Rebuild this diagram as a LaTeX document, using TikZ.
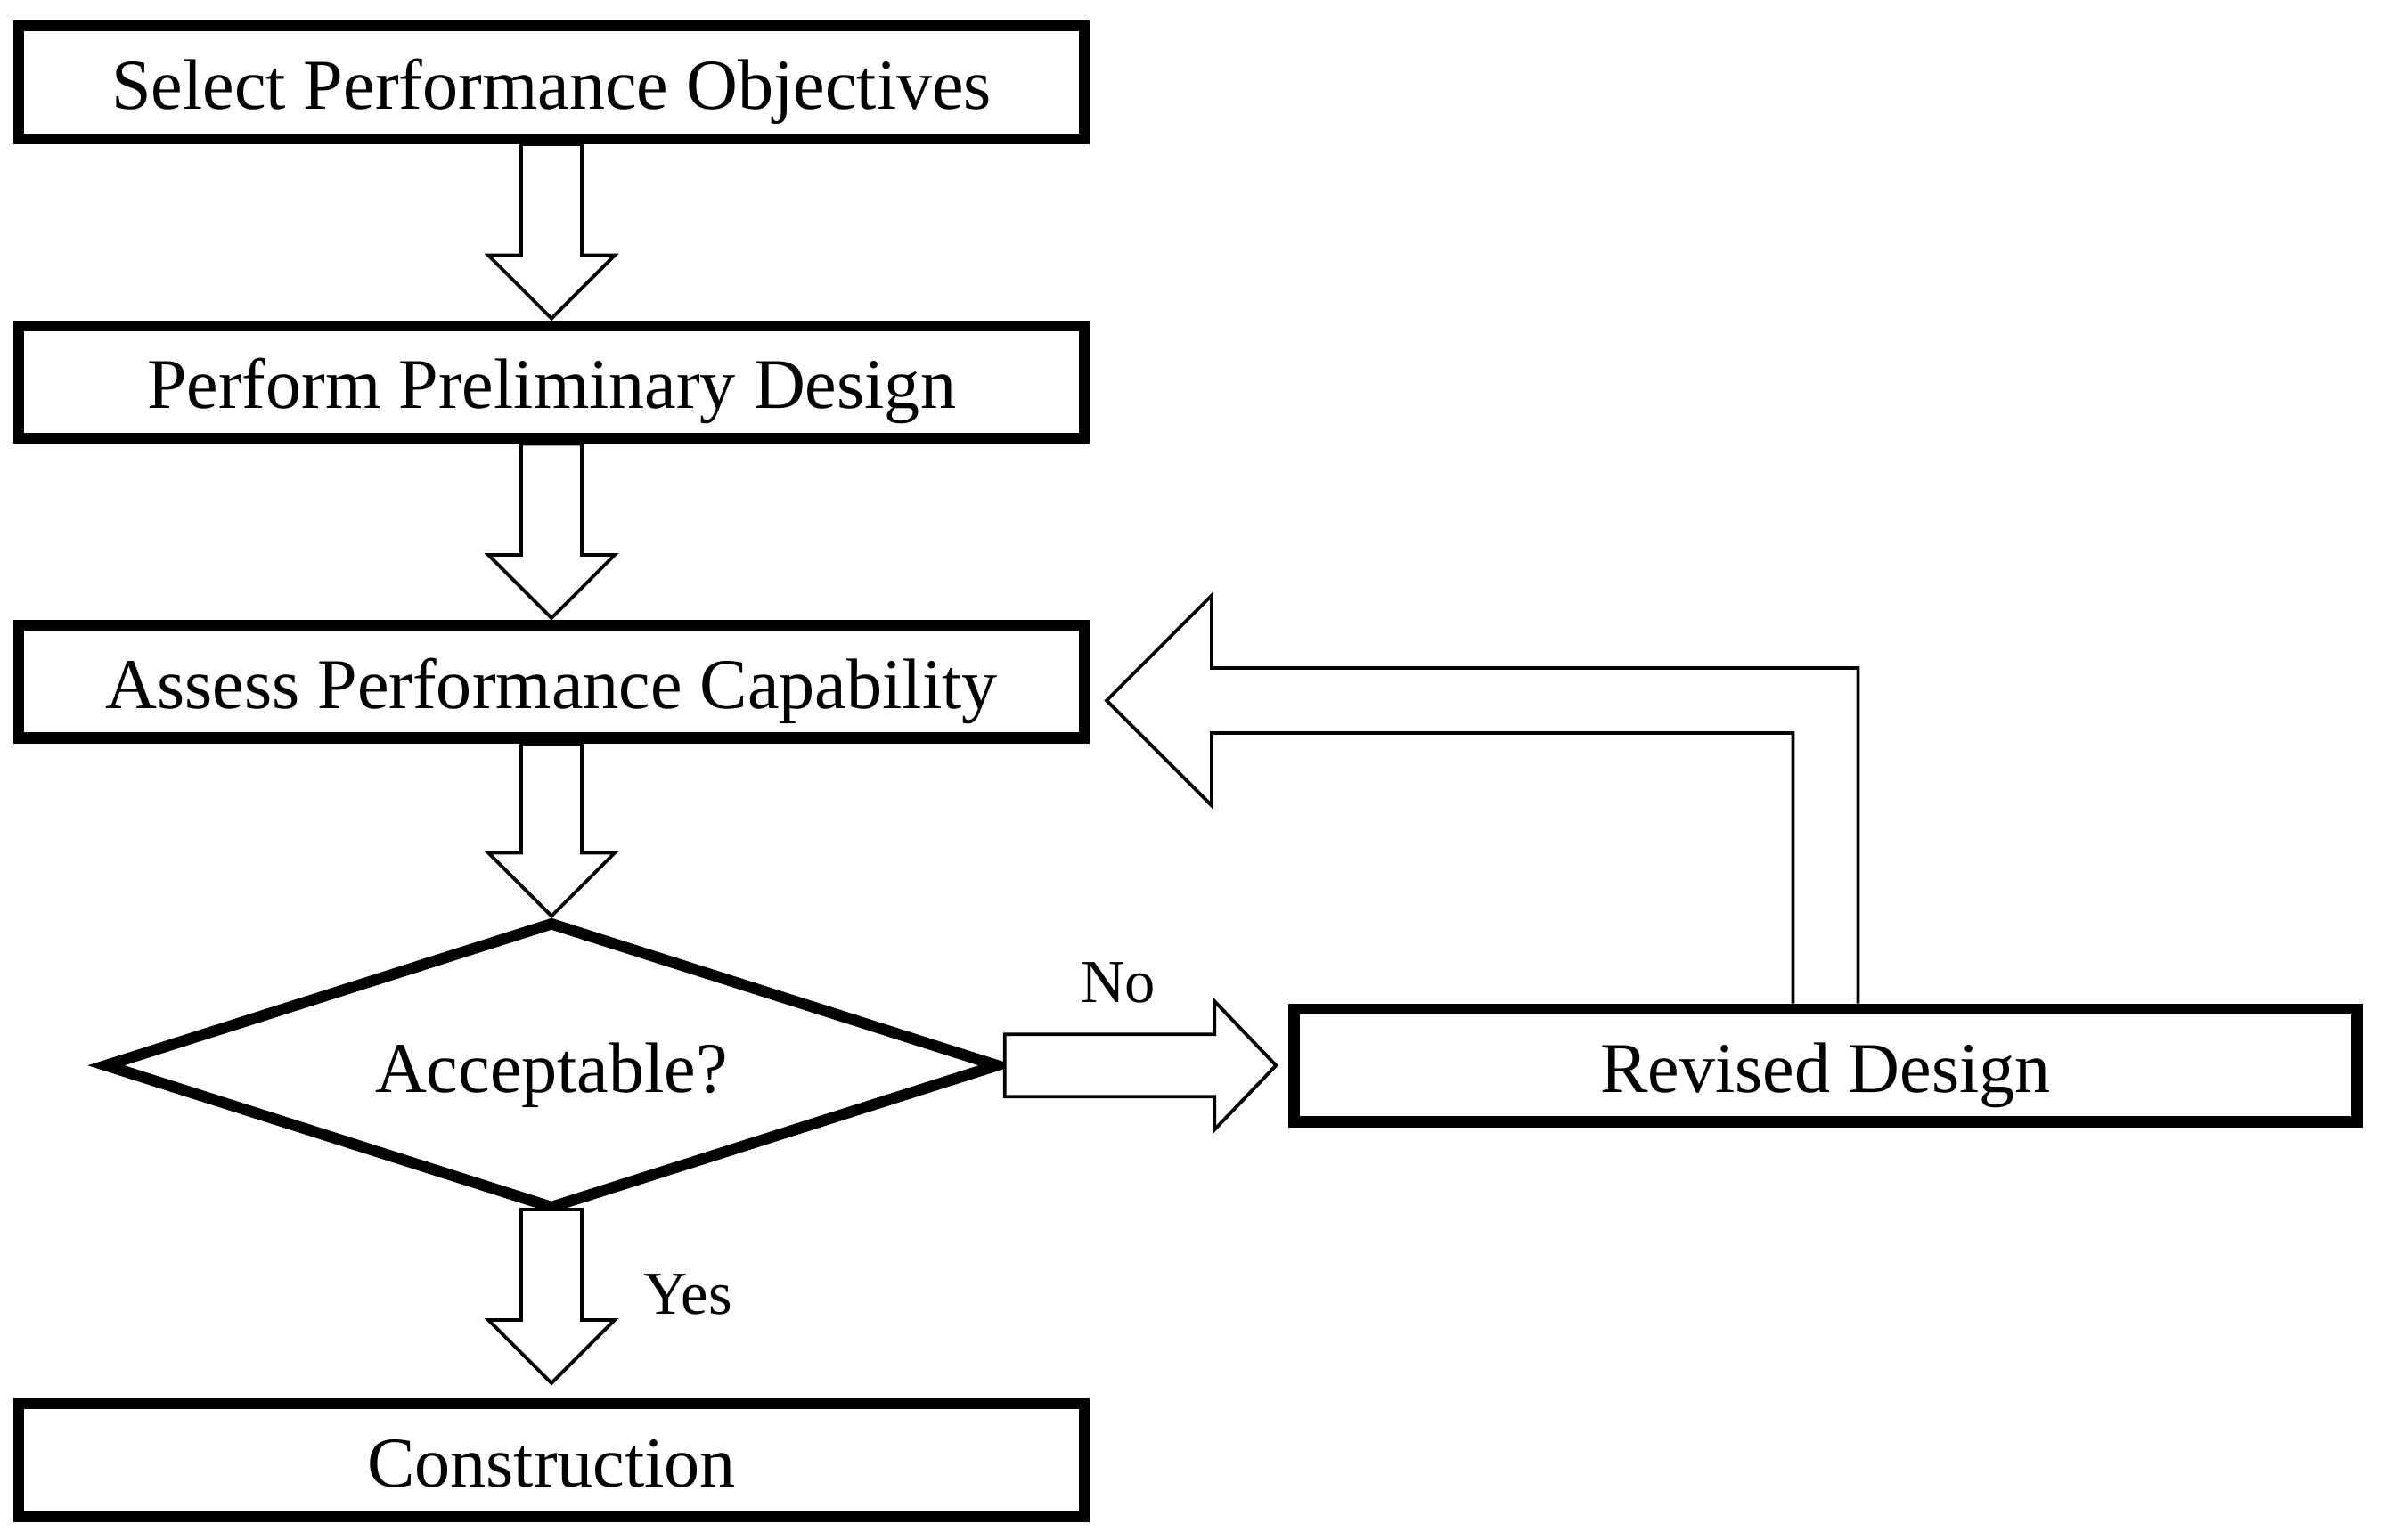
\documentclass[tikz,border=0pt]{standalone}
\usepackage{fontspec}
\setmainfont{Liberation Serif}
\usetikzlibrary{calc}
\usetikzlibrary{positioning}
\usetikzlibrary{shapes.geometric}

% hollow block arrows: shaft from #1 to a tip that sits #3 away from #2
\newcommand{\fatdown}[3]{%
  \coordinate (tip) at ($(#2)+(0,#3)$);
  \draw[hollow] ($(#1)+(-0.34,0)$) -- ($(tip)+(-0.34,0.71)$) -- ($(tip)+(-0.71,0.71)$) -- (tip)
    -- ($(tip)+(0.71,0.71)$) -- ($(tip)+(0.34,0.71)$) -- ($(#1)+(0.34,0)$) -- cycle;}
\newcommand{\fatright}[3]{%
  \coordinate (tip) at ($(#2)+(-#3,0)$);
  \draw[hollow] ($(#1)+(0,0.35)$) -- ($(tip)+(-0.69,0.35)$) -- ($(tip)+(-0.69,0.72)$) -- (tip)
    -- ($(tip)+(-0.69,-0.72)$) -- ($(tip)+(-0.69,-0.35)$) -- ($(#1)+(0,-0.35)$) -- cycle;}

\begin{document}
\begin{tikzpicture}[node distance=1.975cm,
        box/.style={draw, line width=3.55pt, minimum width=11.955cm, minimum height=1.265cm,
          inner sep=0pt, text height=0.65cm, text depth=0.05cm,
          font=\fontsize{22.8}{27}\selectfont},
        choice/.style={draw, diamond, shape aspect=3.13, line width=3.55pt,
          minimum width=10.05cm, minimum height=3.23cm, inner sep=0pt,
          text height=0.65cm, text depth=0.05cm, font=\fontsize{22.8}{27}\selectfont},
        lbl/.style={inner sep=0pt, font=\fontsize{19.5}{23}\selectfont},
        hollow/.style={draw=black, fill=white, line width=1.1pt, line join=miter}]

        \useasboundingbox (0,0) rectangle (26.77,-17.28);

        \node[box] (select) at (6.19,-0.925) {Select Performance Objectives};
        \node[box] (prelim) [below=of select] {Perform Preliminary Design};
        \node[box] (assess) [below=of prelim] {Assess Performance Capability};
        \node[choice] (accept) [below=1.935cm of assess] {Acceptable?};
        \node[box] (constr) [below=2.06cm of accept] {Construction};
        \node[box, minimum width=11.93cm] (revised) [right=3.185cm of accept] {Revised Design};

        \node[lbl] (no) at (12.55,-11.03) {No};
        \node[lbl] (yes) at (7.72,-14.53) {Yes};

        \coordinate (accbot) at ($(accept.south)+(0,0.06)$);

        \fatdown{select.south}{prelim.north}{0.02}
        \fatdown{prelim.south}{assess.north}{0.02}
        \fatdown{assess.south}{accept.north}{0.0}
        \fatdown{accbot}{constr.north}{0.17}
        \fatright{accept.east}{revised.west}{0.14}

        % loop back from the revised design
        \coordinate (back) at ($(assess.east)+(0.19,-0.21)$);
        \draw[hollow] ($(revised.north)+(-0.365,0)$) |- ($(back)+(1.18,-0.365)$)
          -- ($(back)+(1.18,-1.18)$) -- (back) -- ($(back)+(1.18,1.18)$)
          -- ($(back)+(1.18,0.365)$) -| ($(revised.north)+(0.365,0)$);

      \end{tikzpicture}
\end{document}
